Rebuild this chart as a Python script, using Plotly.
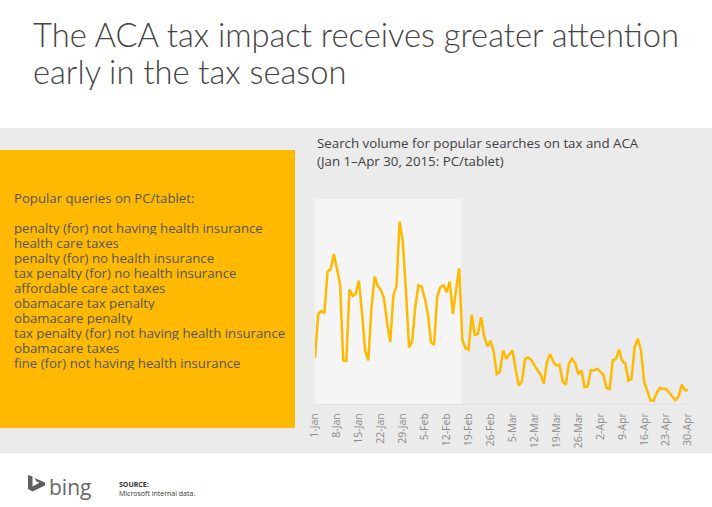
import plotly.graph_objects as go
import pandas as pd

# ---- data ----
dates = pd.date_range("2015-01-01", "2015-04-30", freq="D")
volume = [138, 270, 280, 273, 398, 405, 451, 408, 361, 131,
          130, 345, 325, 331, 371, 273, 160, 131, 288, 383,
          355, 343, 318, 243, 186, 325, 355, 548, 488, 343,
          170, 188, 293, 357, 353, 318, 273, 185, 178, 323,
          351, 356, 336, 368, 271, 343, 408, 193, 168, 163,
          268, 208, 211, 261, 203, 173, 190, 158, 90, 97,
          161, 136, 148, 161, 105, 56, 68, 135, 140, 133,
          116, 101, 88, 61, 125, 150, 128, 116, 118, 68,
          58, 121, 136, 123, 90, 100, 51, 53, 102, 101,
          106, 98, 88, 48, 45, 132, 135, 163, 130, 121,
          70, 76, 173, 196, 161, 68, 41, 11, 10, 33,
          48, 45, 45, 33, 23, 12, 23, 58, 41, 41]
tick_dates = ["2015-01-01", "2015-01-08", "2015-01-15", "2015-01-22", "2015-01-29",
              "2015-02-05", "2015-02-12", "2015-02-19", "2015-02-26", "2015-03-05",
              "2015-03-12", "2015-03-19", "2015-03-26", "2015-04-02", "2015-04-09",
              "2015-04-16", "2015-04-23", "2015-04-30"]
tick_labels = ["1-Jan", "8-Jan", "15-Jan", "22-Jan", "29-Jan", "5-Feb", "12-Feb",
               "19-Feb", "26-Feb", "5-Mar", "12-Mar", "19-Mar", "26-Mar", "2-Apr",
               "9-Apr", "16-Apr", "23-Apr", "30-Apr"]
queries = ["penalty (for) not having health insurance",
           "health care taxes",
           "penalty (for) no health insurance",
           "tax penalty (for) no health insurance",
           "affordable care act taxes",
           "obamacare tax penalty",
           "obamacare penalty",
           "tax penalty (for) not having health insurance",
           "obamacare taxes",
           "fine (for) not having health insurance"]
highlight_start = "2015-01-01"
highlight_end = "2015-02-16 14:00"

# ---- layout geometry (pixels) ----
W, H = 712, 507
L, R, T, B = 315, 24, 199, 103
PW, PH = W - L - R, H - T - B

def px(x):
    return (x - L) / PW

def py(y):
    return (H - B - y) / PH

YELLOW = "#FFB900"
BAND = "#EBEBEB"
FONT = "Open Sans"

fig = go.Figure()
fig.add_trace(go.Scatter(x=dates, y=volume, mode="lines",
                         line=dict(color=YELLOW, width=2.5),
                         hoverinfo="x+y", showlegend=False, cliponaxis=False))

shapes = [
    dict(type="rect", xref="paper", yref="paper", x0=px(0), x1=px(W), y0=py(453), y1=py(128),
         fillcolor=BAND, line_width=0, layer="below"),
    dict(type="rect", xref="paper", yref="paper", x0=px(0), x1=px(295), y0=py(428), y1=py(150),
         fillcolor=YELLOW, line_width=0, layer="below"),
    dict(type="rect", xref="x", yref="paper", x0=highlight_start, x1=highlight_end, y0=0, y1=1,
         fillcolor="#F5F5F5", line_width=0, layer="below"),
    dict(type="path", xref="paper", yref="paper",
         path="M {} {} L {} {} L {} {} L {} {} L {} {} L {} {} L {} {} L {} {} L {} {} L {} {} Z".format(
             px(28), py(475), px(32.5), py(476.5), px(32.5), py(486.5), px(39.5), py(482.8),
             px(36.5), py(481.5), px(34.5), py(478), px(45), py(482.5), px(45), py(485.5),
             px(32.5), py(491.5), px(28), py(489)),
         fillcolor="#5f5f5f", line_width=0, layer="above"),
]

ann = []
def txt(x, y, text, size, color, anchor="left", weight=None, family=FONT, h=None):
    f = dict(family=family, size=size, color=color)
    if weight:
        f["weight"] = weight
    a = dict(xref="paper", yref="paper", x=px(x), y=py(y), text=text,
             showarrow=False, xanchor=anchor, yanchor="middle", font=f)
    if h:
        a["height"] = h
    ann.append(a)

txt(31, 34, "The ACA tax impact receives greater attention", 32.7, "#444444", weight=300, family="Lato")
txt(31, 72, "early in the tax season", 32.7, "#444444", weight=300, family="Lato")
txt(315, 143, "Search volume for popular searches on tax and ACA", 13.3, "#404040")
txt(315, 161, "(Jan 1\u2013Apr 30, 2015: PC/tablet)", 13.3, "#404040")
txt(12, 198, "Popular queries on PC/tablet:", 13.2, "#555555")
for i, q in enumerate(queries):
    txt(12, 228.3 + 15 * i, q, 13.2, "#555555", h=14)
txt(47, 487, "bing", 21, "#666666")
txt(117, 484, "<b>SOURCE:</b>", 7, "#333333")
txt(117, 493, "Microsoft internal data.", 7, "#333333")

fig.update_layout(
    width=W, height=H,
    margin=dict(l=L, r=R, t=T, b=B, pad=0),
    paper_bgcolor="white", plot_bgcolor="rgba(0,0,0,0)",
    shapes=shapes, annotations=ann,
    font=dict(family=FONT),
    xaxis=dict(range=["2015-01-01", "2015-04-30"], tickmode="array",
               tickvals=tick_dates, ticktext=tick_labels, tickangle=-90,
               tickfont=dict(size=10.5, color="#8a8a8a", family=FONT),
               showgrid=False, zeroline=False, showline=True, linecolor="#E2E2E2",
               ticks="outside", ticklen=4, tickcolor="rgba(0,0,0,0)", fixedrange=True),
    yaxis=dict(range=[0, 616], visible=False, fixedrange=True),
)

fig.write_html("out.html", config={"displayModeBar": False},
               post_script="document.body.style.margin='0';")
